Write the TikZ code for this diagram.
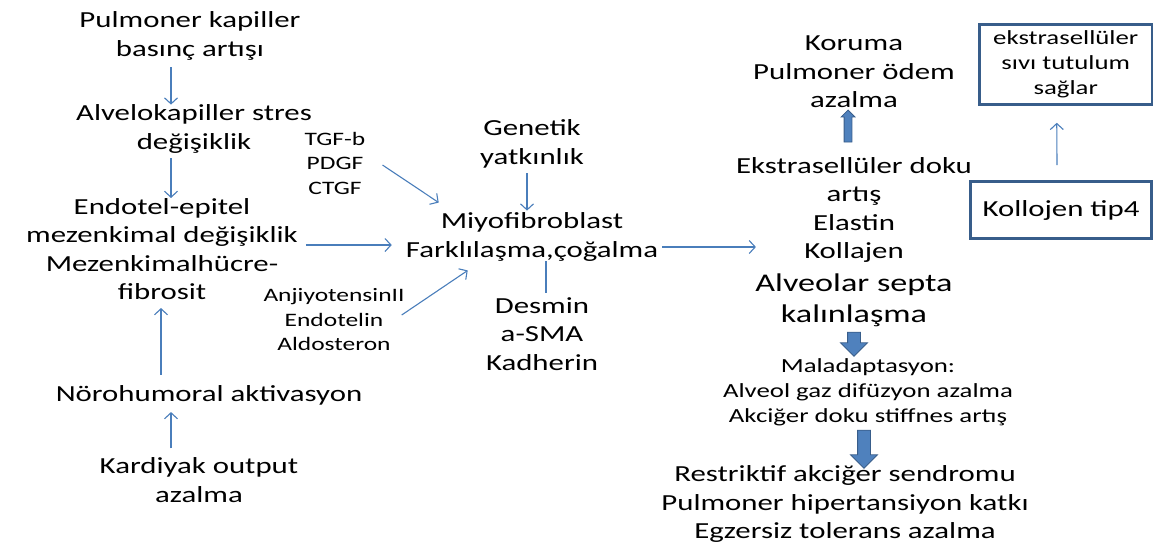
\documentclass[tikz,border=0pt]{standalone}
\usepackage{fontspec}
\setmainfont{Carlito}[FakeStretch=1.34]
\usetikzlibrary{arrows.meta,shapes.arrows}
\definecolor{arrblue}{RGB}{74,126,187}
\definecolor{boxblue}{RGB}{56,93,138}
\definecolor{fillblue}{RGB}{79,129,189}
\tikzset{
  txt/.style={align=center,inner sep=0pt,font=\fontsize{23}{28.5}\selectfont},
  sml/.style={align=center,inner sep=0pt,font=\fontsize{19}{24.5}\selectfont},
  mid/.style={align=center,inner sep=0pt,font=\fontsize{20}{25}\selectfont},
  big/.style={align=center,inner sep=0pt,font=\fontsize{25.5}{31}\selectfont},
  arr/.style={draw=arrblue,line width=1.1pt,>={Straight Barb[length=6pt,width=13pt]},->},
  blk/.style={single arrow,draw=boxblue,fill=fillblue,line width=0.8pt,
    single arrow head indent=0pt,inner sep=6pt,single arrow head extend=7pt},
  box/.style={draw=boxblue,line width=2.6pt,inner sep=0pt,align=center}
}
\begin{document}
\begin{tikzpicture}[x=1pt,y=-1pt]
\useasboundingbox (0,0) rectangle (1155,547);
% left column
\node[txt] (pkb) at (190,36) {Pulmoner kapiller\\basınç artışı};
\node[txt] (als) at (194,129) {Alvelokapiller stres\\değişiklik};
\node[txt] (eem) at (162,249) {Endotel-epitel\\mezenkimal değişiklik\\Mezenkimalhücre-\\fibrosit};
\node[txt] (nha) at (209,395) {Nörohumoral aktivasyon};
\node[txt] (koa) at (199,480) {Kardiyak output\\azalma};
% middle
\node[sml] (tgf) at (335,163) {TGF-b\\PDGF\\CTGF};
\node[sml] (ang) at (334,320) {AnjiyotensinII\\Endotelin\\Aldosteron};
\node[txt] (gen) at (532,144) {Genetik\\yatkınlık};
\node[txt] (myo) at (532,237) {Miyofibroblast\\Farklılaşma,çoğalma};
\node[txt] (des) at (542,334) {Desmin\\a-SMA\\Kadherin};
% right column
\node[txt] (kor) at (854,72) {Koruma\\Pulmoner ödem\\azalma};
\node[txt] (eks) at (854,210) {Ekstrasellüler doku\\artış\\Elastin\\Kollajen};
\node[big] (sep) at (854,300) {Alveolar septa\\kalınlaşma};
\node[mid] (mal) at (868,392) {Maladaptasyon:\\Alveol gaz difüzyon azalma\\Akciğer doku stiffnes artış};
\node[txt] (res) at (845,504) {Restriktif akciğer sendromu\\Pulmoner hipertansiyon katkı\\Egzersiz tolerans azalma};
\node[box,mid,minimum width=172.5,minimum height=80] (sivi) at (1065.75,64.5) {ekstrasellüler\\sıvı tutulum\\sağlar};
\node[box,txt,minimum width=181.5,minimum height=57] (kol) at (1061,210) {Kollojen tip4};

\draw[arr] ([xshift=-19pt,yshift=-7pt]pkb.south) -- ([xshift=-23pt]als.north);
\draw[arr] ([xshift=-23pt,yshift=-5pt]als.south) -- ([xshift=9pt]eem.north);
\draw[arr] ([xshift=-48pt,yshift=10pt]nha.north) -- ([xshift=-1pt,yshift=-8pt]eem.south);
\draw[arr] ([xshift=-28pt,yshift=9pt]koa.north) -- ([xshift=-38pt,yshift=-7pt]nha.south);
\draw[arr] ([xshift=8pt,yshift=4pt]eem.east) -- ([xshift=-14pt,yshift=-8pt]myo.west);
\draw[arr] ([xshift=17pt,yshift=-2pt]tgf.east) -- ([xshift=33pt,yshift=10pt]myo.north west);
\draw[arr] ([xshift=-3pt,yshift=5pt]ang.east) -- ([xshift=62pt,yshift=-9pt]myo.south west);
\draw[arr] ([xshift=-5pt,yshift=-5pt]gen.south) -- ([xshift=-5pt,yshift=2pt]myo.north);
\draw[draw=arrblue,line width=1.1pt] ([xshift=14pt]myo.south) -- ([xshift=4pt,yshift=4pt]des.north);
\draw[arr] ([xshift=4pt,yshift=-10pt]myo.east) -- ([xshift=20pt,yshift=-37pt]eks.west);
\draw[arr] ([xshift=-4pt,yshift=15pt]kol.north) -- ([xshift=-9pt,yshift=-17pt]sivi.south);
% block arrows
\node[blk,inner sep=3.5pt,single arrow head extend=3pt,minimum height=32,rotate=90] (up1) at (848,128) {};
\node[blk,minimum height=24,rotate=-90] (dn1) at (854,341) {};
\node[blk,minimum height=38,rotate=-90] (dn2) at (864,446) {};
\end{tikzpicture}
\end{document}
